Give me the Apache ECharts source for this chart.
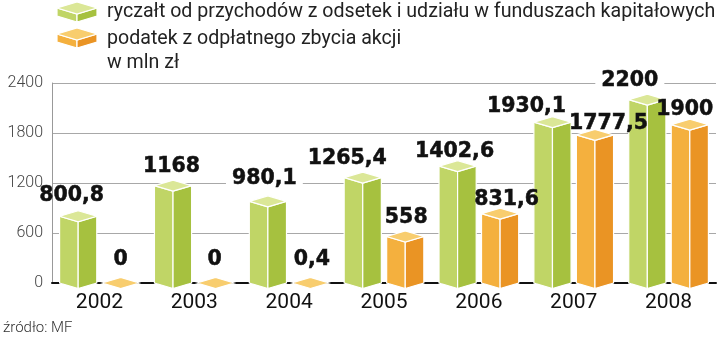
<!DOCTYPE html>
<html><head><meta charset="utf-8">
<script src="https://cdn.jsdelivr.net/npm/echarts@6/dist/echarts.min.js"></script>
<style>html,body{margin:0;padding:0;background:#fff}#c{width:720px;height:341px}</style>
</head><body><div id="c"></div>
<script>
// ---- data ----
const categories = ['2002', '2003', '2004', '2005', '2006', '2007', '2008'];
const ryczalt = [800.8, 1168, 980.1, 1265.4, 1402.6, 1930.1, 2200];
const podatek = [0, 0, 0.4, 558, 831.6, 1777.5, 1900];
const yTicks = [0, 600, 1200, 1800, 2400];
const legendNames = [
  'ryczałt od przychodów z odsetek i udziału w funduszach kapitałowych',
  'podatek z odpłatnego zbycia akcji'
];
const unitText = 'w mln zł';
const sourceText = 'źródło: MF';

// ---- layout (label nudges in px, as placed in the original) ----
const greenLabelShift = [[-6.5,-2],[-1.5,0],[-3.5,-4],[-15.5,0],[-3,5],[-26,4],[-17.5,0]];
const orangeLabelShift = [[0,-4],[-1,-4],[1.5,-4],[1,0],[6.5,5],[13.5,8],[-5,4]];

const GREEN = {front:'#c0d566', side:'#a6c13f', top:'#dbe797'};
const ORANGE = {front:'#f4b03e', side:'#ea9424', top:'#f8cd6e'};
const LABEL_FONT = 'bold 20.5px "DejaVu Sans"';
const measureCtx = document.createElement('canvas').getContext('2d');

function prismShapes(xc, hw, yT, yB, d, col) {
  const x0 = xc - hw, x1 = xc + hw;
  const out = [];
  if (yB - yT > 0.5) {
    out.push({type:'polygon', shape:{points:[[x0,yT],[xc,yT+d],[xc,yB+d],[x0,yB]]}, style:{fill:col.front, stroke:'#fff', lineWidth:1.2}});
    out.push({type:'polygon', shape:{points:[[xc,yT+d],[x1,yT],[x1,yB],[xc,yB+d]]}, style:{fill:col.side, stroke:'#fff', lineWidth:1.2}});
  }
  out.push({type:'polygon', shape:{points:[[x0,yT],[xc,yT-d],[x1,yT],[xc,yT+d]]}, style:{fill:col.top, stroke:'#fff', lineWidth:1.2}});
  return out;
}

function fmt(v) { return String(v).replace('.', ','); }

function makeRender(col, side, shifts) {
  return function (params, api) {
    const idx = api.value(0);
    const val = api.value(1);
    const top = api.coord([idx, val]);
    const base = api.coord([idx, 0]);
    const band = api.size([1, 0])[0];
    const xc = top[0] + side * band * 0.224;
    const hw = band * 0.196;
    const d = 5.5;
    const children = [];
    const sh = shifts[idx] || [0, 0];
    const yb = top[1] - d - 3 + sh[1];
    const txt = fmt(val);
    measureCtx.font = LABEL_FONT;
    const tw = measureCtx.measureText(txt).width;
    // gap in a gridline where the label crosses it
    for (const t of yTicks) {
      const gy = api.coord([0, t])[1];
      if (gy > yb - 17 && gy < yb - 5) {
        children.push({type:'rect', shape:{x: xc + sh[0] - tw / 2 - 6, y: gy - 1.5, width: tw + 12, height: 3},
          style:{fill:'#fff'}});
      }
    }
    children.push(...prismShapes(xc, hw, top[1], base[1], d, col));
    children.push({type:'text', x: xc + sh[0], y: yb, z2: 10, style:{
      text: txt, font: LABEL_FONT, fill:'#111',
      stroke: '#111', lineWidth: 0.5,
      align:'center', verticalAlign:'bottom'
    }});
    return {type:'group', children};
  };
}

const legendGraphics = [];
function legendIcon(yc, col) {
  return prismShapes(77, 20, yc, yc + 8, 6, col);
}
legendGraphics.push({type:'group', children: legendIcon(8, GREEN)});
legendGraphics.push({type:'group', children: legendIcon(34, ORANGE)});
legendGraphics.push({type:'text', left: 107, top: 2, style:{text: legendNames[0], font:'19.6px Roboto', fill:'#222'}});
legendGraphics.push({type:'text', left: 107, top: 29, style:{text: legendNames[1], font:'19.6px Roboto', fill:'#222'}});
legendGraphics.push({type:'text', left: 107, top: 53, style:{text: unitText, font:'19.6px Roboto', fill:'#222'}});
legendGraphics.push({type:'text', left: 3, top: 321, style:{text: sourceText, font:'300 15px Roboto', fill:'#333'}});

const chart = echarts.init(document.getElementById('c'), null, {renderer:'canvas'});
chart.setOption({
  animation: false,
  backgroundColor: '#fff',
  grid: {left: 52, right: 4, top: 83, bottom: 58},
  xAxis: {
    type: 'category', data: categories, boundaryGap: true,
    axisLine: {lineStyle: {color: '#111', width: 2}},
    axisTick: {show: false},
    axisLabel: {fontFamily: 'Roboto', fontSize: 21, color: '#111', margin: 9}
  },
  yAxis: {
    type: 'value', min: 0, max: 2400, interval: 600,
    axisLine: {show: true, lineStyle: {color: '#999', width: 1}},
    axisTick: {show: false},
    splitLine: {lineStyle: {color: '#a8a8a8', width: 1}},
    axisLabel: {fontFamily: 'Roboto', fontWeight: 300, fontSize: 16, color: '#444', margin: 9,
      formatter: v => String(v)}
  },
  graphic: legendGraphics,
  series: [
    {type: 'custom', name: legendNames[0], data: ryczalt.map((v, i) => [i, v]), renderItem: makeRender(GREEN, -1, greenLabelShift), z: 5},
    {type: 'custom', name: legendNames[1], data: podatek.map((v, i) => [i, v]), renderItem: makeRender(ORANGE, 1, orangeLabelShift), z: 5}
  ]
});
</script>
</body></html>
